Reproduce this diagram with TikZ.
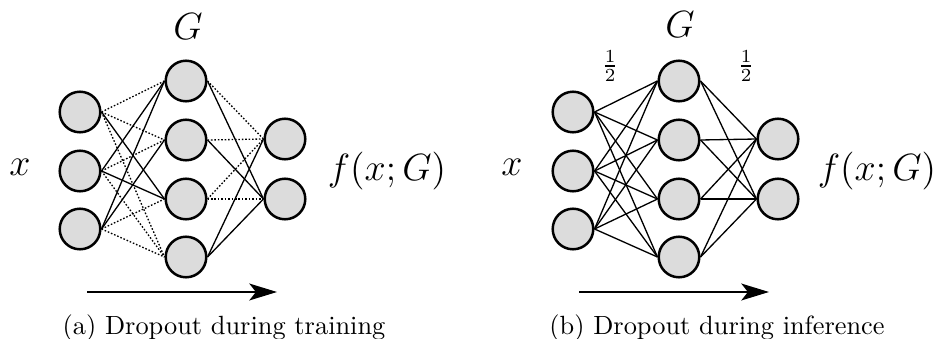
\documentclass[tikz,border=0pt]{standalone}
\usetikzlibrary{arrows.meta}
\definecolor{nodefill}{RGB}{220,220,220}
\tikzset{
  neuron/.style={circle, draw=black, fill=nodefill, line width=0.95pt, minimum size=15.4pt, inner sep=0pt},
  conn/.style={line width=0.5pt},
  drop/.style={line width=0.5pt, dash pattern=on 0.6pt off 0.7pt},
  flow/.style={line width=0.7pt, -{Stealth[length=10.5pt, width=6.4pt, inset=2.5pt]}},
  biglabel/.style={font=\Large, inner sep=0pt},
  caption/.style={font=\normalsize, inner sep=0pt},
}
\begin{document}
\begin{tikzpicture}[x=0.3795pt, y=-0.3795pt]
\useasboundingbox (0,0) rectangle (935,339);
% ---------- left panel ----------
\foreach \n/\yy in {1/112,2/171,3/229} \node[neuron] (aI\n) at (80,\yy) {};
\foreach \n/\yy in {1/81,2/140,3/199,4/257} \node[neuron] (aH\n) at (186,\yy) {};
\foreach \n/\yy in {1/139,2/199} \node[neuron] (aO\n) at (285,\yy) {};
% input -> hidden
\draw[drop] (aI1.east) -- (aH1.west);
\draw[drop] (aI1.east) -- (aH2.west);
\draw[conn] (aI1.east) -- (aH3.west);
\draw[drop] (aI1.east) -- (aH4.west);
\draw[conn] (aI2.east) -- (aH1.west);
\draw[drop] (aI2.east) -- (aH2.west);
\draw[conn] (aI2.east) -- (aH3.west);
\draw[drop] (aI2.east) -- (aH4.west);
\draw[conn] (aI3.east) -- (aH1.west);
\draw[conn] (aI3.east) -- (aH2.west);
\draw[drop] (aI3.east) -- (aH3.west);
\draw[drop] (aI3.east) -- (aH4.west);
% hidden -> output
\draw[drop] (aH1.east) -- (aO1.west);
\draw[conn] (aH1.east) -- (aO2.west);
\draw[drop] (aH2.east) -- (aO1.west);
\draw[conn] (aH2.east) -- (aO2.west);
\draw[drop] (aH3.east) -- (aO1.west);
\draw[drop] (aH3.east) -- (aO2.west);
\draw[conn] (aH4.east) -- (aO1.west);
\draw[conn] (aH4.east) -- (aO2.west);
\node[biglabel] (aG) at (188,27) {$G$};
\node[biglabel] (ax) at (20,167) {$x$};
\node[biglabel] (af) at (387,171) {$f(x;G)$};
\coordinate (aA1) at (87,292);
\coordinate (aA2) at (277,292);
\draw[flow] (aA1) -- (aA2);
\node[caption] (acap) at (224,328) {(a) Dropout during training};
% ---------- right panel ----------
\foreach \n/\yy in {1/112,2/171,3/229} \node[neuron] (bI\n) at (573,\yy) {};
\foreach \n/\yy in {1/81,2/140,3/199,4/257} \node[neuron] (bH\n) at (679,\yy) {};
\foreach \n/\yy in {1/139,2/199} \node[neuron] (bO\n) at (778,\yy) {};
\foreach \i in {1,2,3} \foreach \h in {1,2,3,4} \draw[conn] (bI\i.east) -- (bH\h.west);
\foreach \h in {1,2,3,4} \foreach \o in {1,2} \draw[conn] (bH\h.east) -- (bO\o.west);
\node[biglabel] (bG) at (680,25) {$G$};
\node[inner sep=0pt] (bh1) at (610,66) {$\frac{1}{2}$};
\node[inner sep=0pt] (bh2) at (746,66) {$\frac{1}{2}$};
\node[biglabel] (bx) at (512,167) {$x$};
\node[biglabel] (bf) at (877,171) {$f(x;G)$};
\coordinate (bA1) at (579,292);
\coordinate (bA2) at (769,292);
\draw[flow] (bA1) -- (bA2);
\node[caption] (bcap) at (717,328) {(b) Dropout during inference};
\end{tikzpicture}
\end{document}
